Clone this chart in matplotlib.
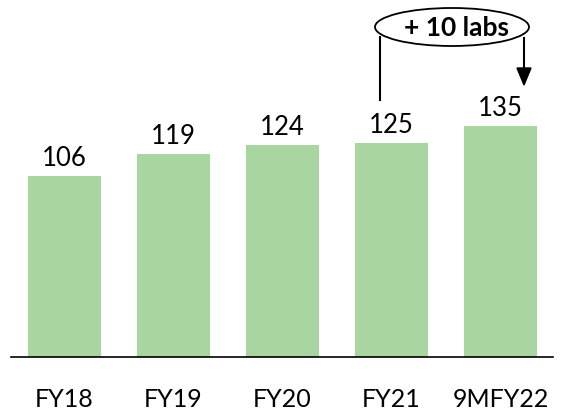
import matplotlib.pyplot as plt
from matplotlib.patches import Ellipse

categories = ['FY18', 'FY19', 'FY20', 'FY21', '9MFY22']
labs = [106, 119, 124, 125, 135]
bar_color = '#a9d5a0'

W, H = 565, 419
fig = plt.figure(figsize=(W / 100, H / 100), dpi=100)
plt.rcParams['font.family'] = ['Lato', 'DejaVu Sans']

# axes spans the plot area, baseline at y=357px
ax = fig.add_axes([11 / W, (H - 357) / H, 542 / W, 357 / H])
x = list(range(len(categories)))
ax.bar(x, labs, width=0.67, color=bar_color)
ax.set_xlim(-0.49, 4.48)
ax.set_ylim(0, 209)

for xi, v in zip(x, labs):
    ax.text(xi, v + 3, str(v), ha='center', va='bottom', fontsize=18.5)

for s in ['top', 'right', 'left']:
    ax.spines[s].set_visible(False)
ax.spines['bottom'].set_linewidth(1.2)
ax.set_yticks([])
ax.set_xticks(x)
ax.set_xticklabels(categories, fontsize=18)
ax.tick_params(axis='x', length=0, pad=22)

# "+10 labs" callout, drawn in figure pixels
def fx(px):
    return px / W

def fy(py):
    return 1 - py / H

ell = Ellipse((fx(452), fy(27)), 154 / W, 38 / H, transform=fig.transFigure,
              facecolor='white', edgecolor='black', linewidth=1.3, zorder=3)
fig.patches.append(ell)
fig.text(fx(457), fy(28), '+ 10 labs', ha='center', va='center',
         fontsize=19, fontweight='bold', zorder=4)
fig.add_artist(plt.Line2D([fx(380), fx(380)], [fy(37), fy(100)],
                          transform=fig.transFigure, color='black', lw=1.5))
fig.add_artist(plt.Line2D([fx(524), fx(524)], [fy(38), fy(70)],
                          transform=fig.transFigure, color='black', lw=1.5))
fig.patches.append(plt.Polygon([[fx(517), fy(68)], [fx(531), fy(68)], [fx(524), fy(85)]],
                               closed=True, transform=fig.transFigure,
                               facecolor='black', edgecolor='black'))

fig.savefig('out.png', dpi=100)
